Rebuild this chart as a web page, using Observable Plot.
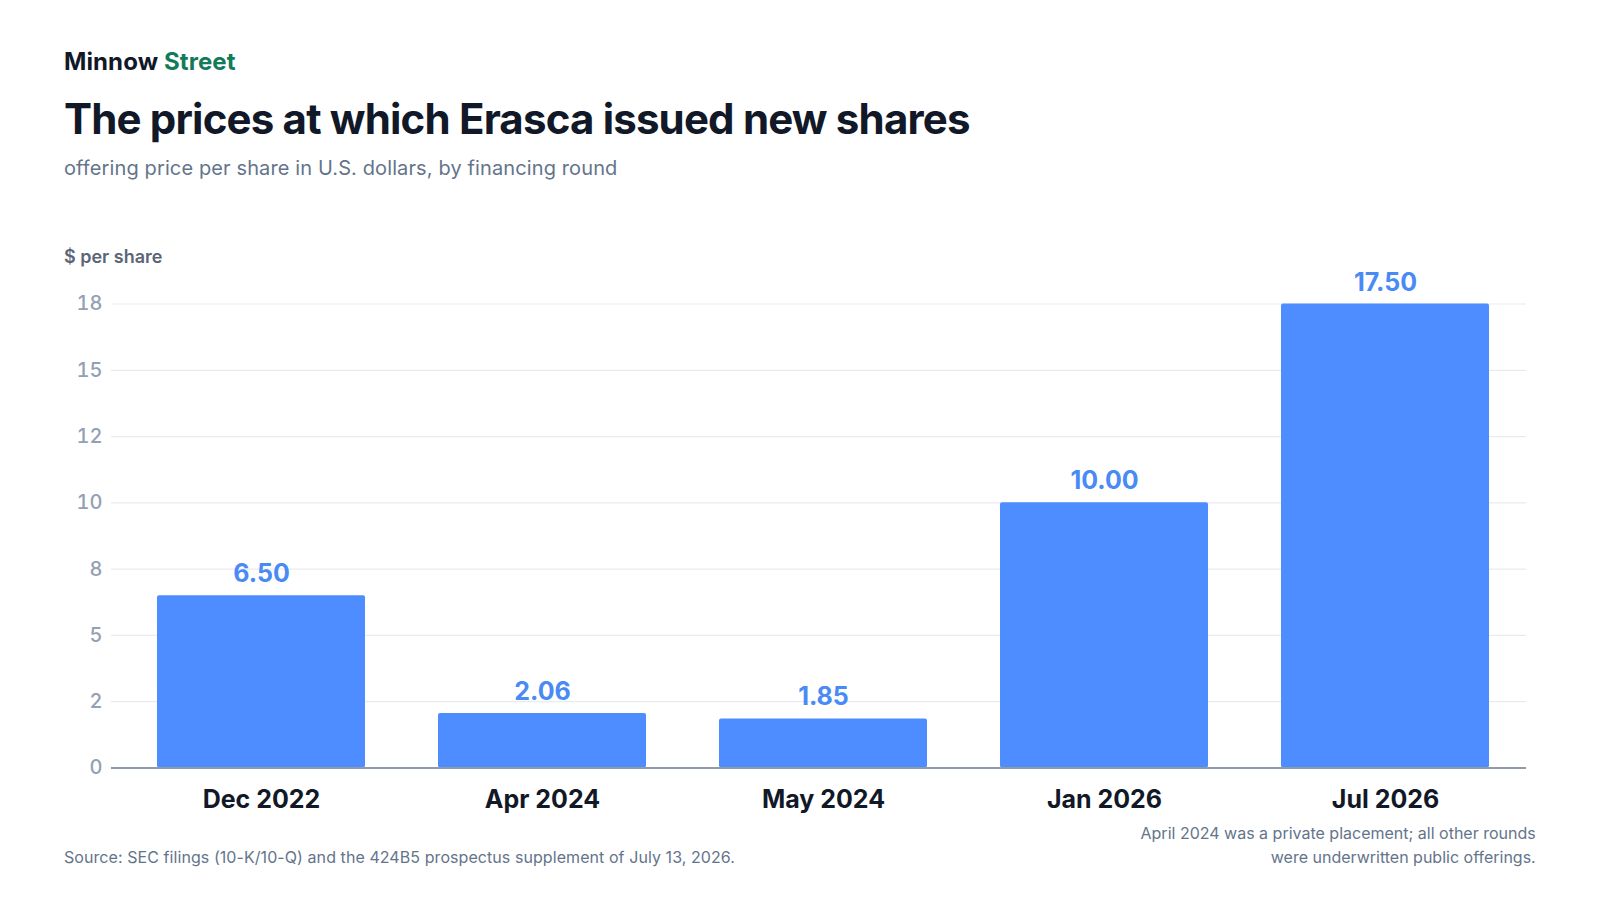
<!DOCTYPE html>
<html>
<head>
<meta charset="utf-8">
<script src="https://cdn.jsdelivr.net/npm/d3@7"></script>
<script src="https://cdn.jsdelivr.net/npm/@observablehq/plot@0.6"></script>
<style>
  html, body { margin: 0; padding: 0; background: #ffffff; }
  body { width: 1600px; height: 900px; position: relative; overflow: hidden; font-family: Inter, "Noto Sans", sans-serif; }
  .t { position: absolute; line-height: 1; white-space: nowrap; }
  #brand { left: 64px; top: 50px; font-size: 24px; font-weight: 700; color: #111827; letter-spacing: 0.1px; }
  #brand span { color: #137a5a; }
  #title { left: 64px; top: 97.8px; font-size: 42px; font-weight: 700; color: #111827; letter-spacing: -0.82px; }
  #subtitle { left: 64px; top: 158px; font-size: 20px; font-weight: 400; color: #64748b; letter-spacing: 0.12px; }
  #ylabel { left: 64px; top: 248.4px; font-size: 18px; font-weight: 600; color: #5b6578; }
  #source { left: 64px; top: 848.7px; font-size: 16px; color: #64748b; letter-spacing: 0.07px; }
  #note { right: 64.3px; top: 822.4px; font-size: 16px; color: #64748b; text-align: right; line-height: 23.5px; }
  #chart { position: absolute; left: 0; top: 220px; }
</style>
</head>
<body>
<div class="t" id="brand">Minnow <span>Street</span></div>
<div class="t" id="title">The prices at which Erasca issued new shares</div>
<div class="t" id="subtitle">offering price per share in U.S. dollars, by financing round</div>
<div class="t" id="ylabel">$ per share</div>
<div id="chart"></div>
<div class="t" id="source">Source: SEC filings (10-K/10-Q) and the 424B5 prospectus supplement of July 13, 2026.</div>
<div class="t" id="note">April 2024 was a private placement; all other rounds<br>were underwritten public offerings.</div>
<script>
const rounds = ["Dec 2022", "Apr 2024", "May 2024", "Jan 2026", "Jul 2026"];
const prices = [6.50, 2.06, 1.85, 10.00, 17.50];
const priceLabels = ["6.50", "2.06", "1.85", "10.00", "17.50"];
const yTickValues = [0, 2.5, 5, 7.5, 10, 12.5, 15, 17.5];
const yTickLabels = ["0", "2", "5", "8", "10", "12", "15", "18"];

const data = rounds.map((r, i) => ({round: r, price: prices[i], label: priceLabels[i]}));
const tickLabelOf = new Map(yTickValues.map((v, i) => [v, yTickLabels[i]]));

const plot = Plot.plot({
  width: 1600,
  height: 600,
  marginTop: 83.5,
  marginBottom: 52.5,
  marginLeft: 111,
  marginRight: 74,
  style: { fontFamily: "Inter, 'Noto Sans', sans-serif", background: "transparent", overflow: "visible" },
  x: { domain: rounds, paddingInner: 0.261, paddingOuter: 0.1475, align: 0.555, label: null },
  y: { domain: [0, 17.5], label: null },
  marks: [
    Plot.ruleY(yTickValues.filter(v => v > 0), { stroke: "#e8ebf0", strokeWidth: 1.2 }),
    Plot.barY(data, { x: "round", y: "price", fill: "#4d8dff", rx: 2 }),
    Plot.ruleY([0], { stroke: "#8f9aab", strokeWidth: 2 }),
    Plot.text(data, { x: "round", y: "price", text: "label", dy: -21.5, fill: "#4a8af5", fontSize: 25, fontWeight: 700 }),
    Plot.axisY({ ticks: yTickValues, tickFormat: d => tickLabelOf.get(d), tickSize: 0, tickPadding: 9, fontSize: 20, fontWeight: 500, fill: "#94a0b4", label: null }),
    Plot.axisX({ tickSize: 0, tickPadding: 22, fontSize: 25, fontWeight: 700, fill: "#111827", label: null })
  ]
});
document.getElementById("chart").appendChild(plot);
</script>
</body>
</html>
